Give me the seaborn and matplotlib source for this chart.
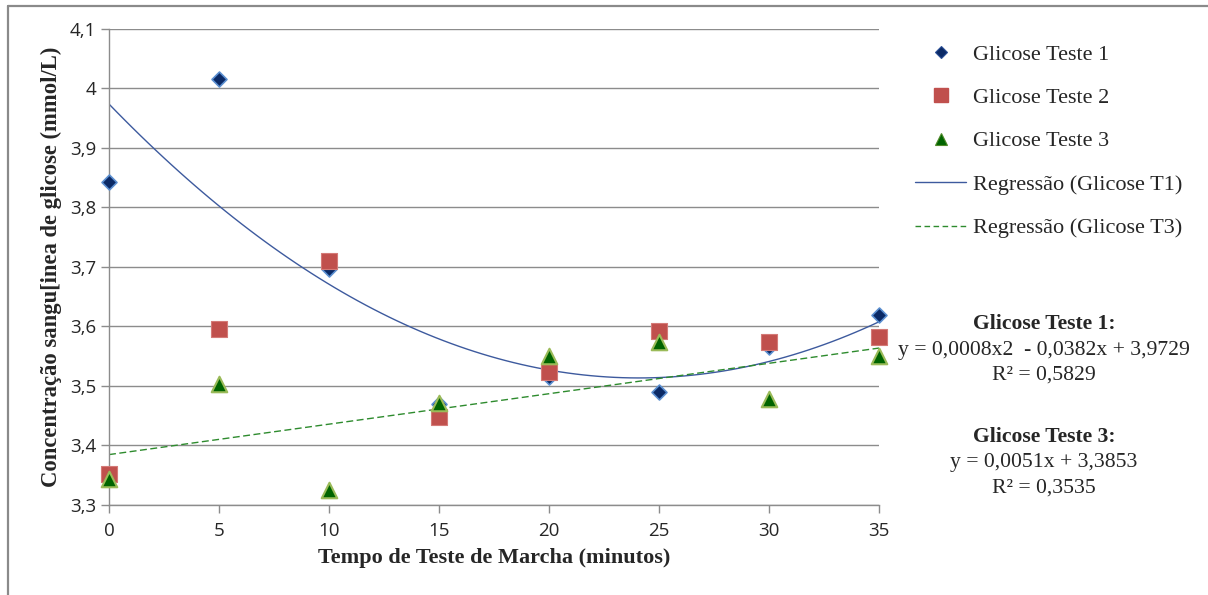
import numpy as np
import pandas as pd
import matplotlib
matplotlib.use("Agg")
import matplotlib.pyplot as plt
from matplotlib.lines import Line2D
from matplotlib.ticker import FuncFormatter, MultipleLocator
import seaborn as sns

# ---- data ----
tempo = [0, 5, 10, 15, 20, 25, 30, 35]
glicose_t1 = [3.843, 4.015, 3.697, 3.470, 3.515, 3.490, 3.566, 3.619]
glicose_t2 = [3.352, 3.596, 3.710, 3.447, 3.524, 3.593, 3.574, 3.582]
glicose_t3 = [3.343, 3.503, 3.325, 3.471, 3.550, 3.573, 3.478, 3.550]
series_labels = ["Glicose Teste 1", "Glicose Teste 2", "Glicose Teste 3"]
reg_labels = ["Regressão (Glicose T1)", "Regressão (Glicose T3)"]
eq_t1 = ["Glicose Teste 1:", "y = 0,0008x2  - 0,0382x + 3,9729", "R² = 0,5829"]
eq_t3 = ["Glicose Teste 3:", "y = 0,0051x + 3,3853", "R² = 0,3535"]
x_label = "Tempo de Teste de Marcha (minutos)"
y_label = "Concentração sangu[inea de glicose (mmol/L)"

df = pd.DataFrame({"tempo": tempo, "t1": glicose_t1, "t2": glicose_t2, "t3": glicose_t3})

sns.set_style("white")
plt.rcParams["font.family"] = ["Open Sans", "DejaVu Sans"]

fig = plt.figure(figsize=(12.08, 5.95), dpi=100)
W, H = 1208, 595
ax = fig.add_axes([109 / W, 1 - 505 / H, (879 - 109) / W, (505 - 28.7) / H])

grid_c = "#8c8c8c"
ax.set_xlim(0, 35)
ax.set_ylim(3.3, 4.1)
ax.yaxis.set_major_locator(MultipleLocator(0.1))
ax.xaxis.set_major_locator(MultipleLocator(5))
ax.grid(axis="y", color=grid_c, linewidth=1.0)
ax.grid(axis="x", visible=False)
ax.set_axisbelow(True)
for side in ["top", "right"]:
    ax.spines[side].set_visible(False)
for side in ["left", "bottom"]:
    ax.spines[side].set_color(grid_c)
    ax.spines[side].set_linewidth(1.0)
ax.tick_params(axis="both", direction="out", length=6, width=1.0, color=grid_c,
               labelsize=13.5, labelcolor="#262626", left=True, bottom=True)
ax.tick_params(axis="y", pad=3)
ax.tick_params(axis="x", pad=6)

def fmt(v, pos):
    s = f"{v:.1f}".rstrip("0").rstrip(".")
    return s.replace(".", ",")
ax.yaxis.set_major_formatter(FuncFormatter(fmt))
ax.xaxis.set_major_formatter(FuncFormatter(lambda v, p: f"{v:g}"))

# regression lines
sns.regplot(data=df, x="tempo", y="t1", order=2, ci=None, scatter=False, ax=ax,
            line_kws=dict(color="#3d5a9e", linewidth=1.0, zorder=2))
sns.regplot(data=df, x="tempo", y="t3", order=1, ci=None, scatter=False, ax=ax,
            line_kws=dict(color="#2e8b2e", linewidth=1.0, linestyle=(0, (5, 2.5)), zorder=2))

# scatter series
sns.scatterplot(data=df, x="tempo", y="t1", marker="D", s=58, color="#0b2a66",
                edgecolor="#5b8fd0", linewidth=1.2, ax=ax, zorder=3, clip_on=False)
sns.scatterplot(data=df, x="tempo", y="t2", marker="s", s=135, color="#c0504d",
                edgecolor="#d47a77", linewidth=0.8, ax=ax, zorder=4, clip_on=False)
sns.scatterplot(data=df, x="tempo", y="t3", marker="^", s=125, color="#006400",
                edgecolor="#9bbb59", linewidth=1.5, ax=ax, zorder=5, clip_on=False)

ax.set_xlabel(x_label, family=["Liberation Serif"], fontweight="bold", fontsize=16, labelpad=6)
ax.set_ylabel(y_label, family=["Liberation Serif"], fontweight="bold", fontsize=16.3, labelpad=6)

# legend
handles = [
    Line2D([], [], linestyle="none", marker="D", markersize=6.5, markerfacecolor="#0b2a66",
           markeredgecolor="#2a4f95", markeredgewidth=0.8),
    Line2D([], [], linestyle="none", marker="s", markersize=10, markerfacecolor="#c0504d",
           markeredgecolor="#c0504d"),
    Line2D([], [], linestyle="none", marker="^", markersize=9, markerfacecolor="#006400",
           markeredgecolor="#4f8a2a", markeredgewidth=0.8),
    Line2D([], [], color="#3d5a9e", linewidth=1.0),
    Line2D([], [], color="#2e8b2e", linewidth=1.0, linestyle=(0, (4, 2.5))),
]
leg = fig.legend(handles, series_labels + reg_labels, loc="upper left",
                 bbox_to_anchor=(915 / W, 1 - 44 / H), frameon=False,
                 prop=dict(family="Liberation Serif", size=16),
                 handlelength=2.3, handletextpad=0.3, labelspacing=1.03, borderpad=0,
                 borderaxespad=0)

# equations
cx = 1044 / W
for i, (txt, ypix) in enumerate(zip(eq_t1, [324, 350, 375])):
    fig.text(cx, 1 - ypix / H, txt, ha="center", va="center", family="Liberation Serif",
             fontsize=15.6, fontweight="bold" if i == 0 else "normal")
for i, (txt, ypix) in enumerate(zip(eq_t3, [437, 463, 488])):
    fig.text(cx, 1 - ypix / H, txt, ha="center", va="center", family="Liberation Serif",
             fontsize=15.6, fontweight="bold" if i == 0 else "normal")

# outer frame (top and left only, as in the cropped reference)
fig.add_artist(Line2D([8 / W, 1], [1 - 6 / H, 1 - 6 / H], transform=fig.transFigure,
                      color="#8a8a8a", linewidth=1.6))
fig.add_artist(Line2D([8 / W, 8 / W], [0, 1 - 6 / H], transform=fig.transFigure,
                      color="#8a8a8a", linewidth=1.6))

fig.savefig("out.png", dpi=100)
